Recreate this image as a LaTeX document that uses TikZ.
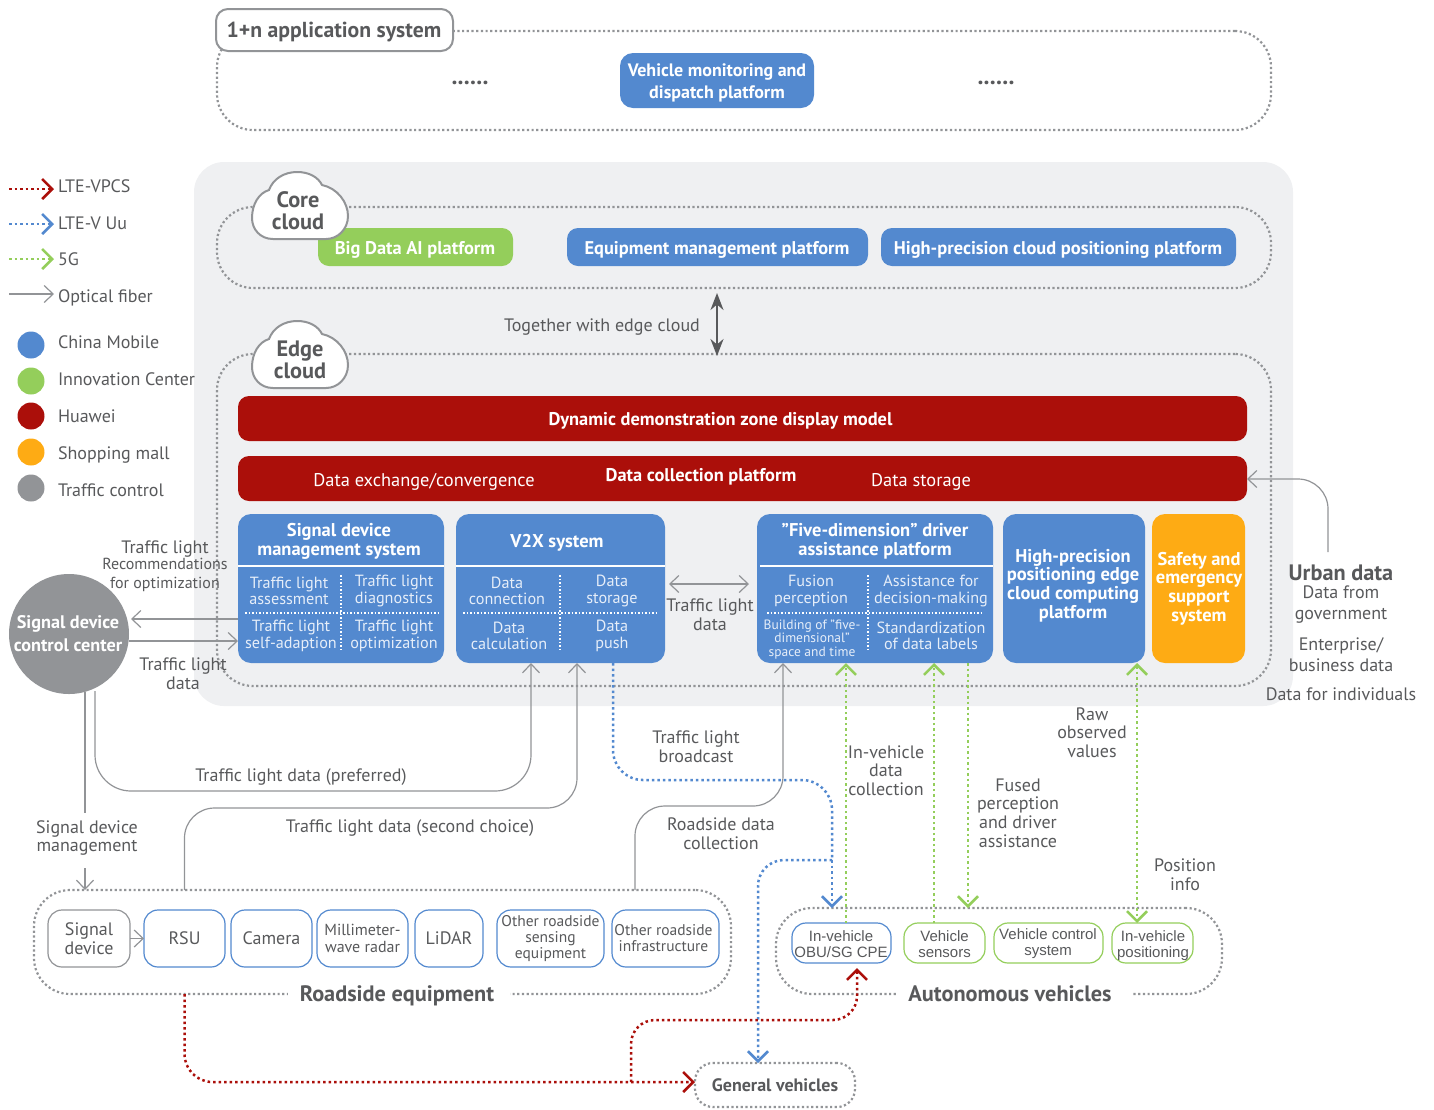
\documentclass[tikz,border=0pt]{standalone}
\usepackage{fontspec}
\setmainfont{PT Sans}
\newfontfamily\arialf{Liberation Sans}
\usetikzlibrary{arrows.meta,calc}
\definecolor{txt}{HTML}{58595B}
\definecolor{mgray}{HTML}{929497}
\definecolor{panel}{HTML}{EFF0F2}
\definecolor{mblue}{HTML}{5389CF}
\definecolor{mgreen}{HTML}{94CE5B}
\definecolor{mred}{HTML}{AB0F0A}
\definecolor{morange}{HTML}{FEAB14}
\definecolor{subw}{HTML}{E6EEF9}
\newcommand\fs[2]{\fontsize{#1}{#2}\selectfont}
\newcommand\mkbox[7][]{\node[#1,minimum width={(#5-#3)*1pt},minimum height={(#6-#4)*1pt}] (#2) at ({(#3+#5)/2},{(#4+#6)/2}) {#7};}
\newcommand\mklab[5][]{\node[#1] (#2) at (#3,#4) {#5};}
\tikzset{
  every node/.style={inner sep=0pt,outer sep=0pt,align=center,text=txt,font=\fs{18}{18.6}},
  dotframe/.style={draw=mgray,line width=2.2pt,dash pattern=on 2.2pt off 2.5pt,rounded corners=36pt},
  solidblue/.style={fill=mblue,rounded corners=13pt,text=white,font=\bfseries\fs{18.4}{22}},
  solidred/.style={fill=mred,rounded corners=11pt,text=white,font=\bfseries\fs{18.4}{19}},
  solidgreen/.style={fill=mgreen,rounded corners=11pt,text=white,font=\bfseries\fs{18.4}{19}},
  outlinebox/.style={draw=mblue,fill=white,line width=1.2pt,rounded corners=14pt,text=txt},
  greenbox/.style={outlinebox,draw=mgreen},
  titlew/.style={text=white,font=\bfseries\fs{18.5}{18.8}},
  boldw/.style={text=white,font=\bfseries\fs{18.4}{19}},
  subw/.style={text=subw,font=\fs{16.2}{16.4}},
  subsmall/.style={text=subw,font=\fs{13.5}{13.5}},
  head/.style={font=\bfseries\fs{22.3}{22}},
  cloudbody/.style={draw=mgray,fill=white,line width=2pt},
  gline/.style={draw=mgray,line width=1.2pt},
  gtip/.tip={Straight Barb[length=9pt,width=17pt,line width=1.2pt]},
  ctip/.tip={Straight Barb[length=10pt,width=20pt,line width=2.6pt]},
  dotconn/.style={line width=2.5pt,dash pattern=on 2.5pt off 3pt,rounded corners=18pt},
  redc/.style={dotconn,draw=mred},
  bluec/.style={dotconn,draw=mblue},
  greenc/.style={dotconn,draw=mgreen},
  sepw/.style={draw=white,line width=2.6pt},
  dotw/.style={draw=white,line width=1.5pt,dash pattern=on 1.5pt off 2pt},
  carbox/.style={font=\arialf\fs{15}{16}},
}
\begin{document}
\begin{tikzpicture}[x=1pt,y=-1pt]
\useasboundingbox (0,0) rectangle (1434,1109);
% top system
\mkbox[dotframe]{appframe}{217}{31}{1271}{130}{}
\mkbox[draw=mgray,fill=white,line width=2pt,rounded corners=12pt]{apphead}{216}{9}{453}{51}{}
\mklab[font=\bfseries\fs{21.7}{22}]{appheadl}{334}{32}{1+n application system}
\mkbox[solidblue]{vmon}{620}{53}{814}{108}{}
\mklab[text=white,font=\bfseries\fs{18}{22}]{vmonl}{717}{82.5}{Vehicle monitoring and\\dispatch platform}
\mklab[font=\bfseries\fs{24}{24}]{dl}{470}{83}{......}
\mklab[font=\bfseries\fs{24}{24}]{dr}{996}{83}{......}
% panel
\mkbox[fill=panel,rounded corners=30pt]{panelbox}{194}{162}{1293}{706}{}
% core
\mkbox[dotframe]{core}{217}{207}{1271}{288}{}
\mkbox[solidgreen]{bigdata}{318}{228}{513}{266}{}
\mklab[boldw]{bigdatal}{415}{250}{Big Data AI platform}
\mkbox[solidblue,rounded corners=11pt]{equip}{567}{228}{868}{266}{}
\mklab[boldw]{equipl}{717}{250}{Equipment management platform}
\mkbox[solidblue,rounded corners=11pt]{hpcloud}{881}{228}{1236}{266}{}
\mklab[boldw]{hpcloudl}{1058}{250}{High-precision cloud positioning platform}
\draw[cloudbody,shift={(251,171)}] (22,68) .. controls (9,68) and (1,58) .. (1,47) .. controls (1,33) and (8,22) .. (18,19) .. controls (22,8) and (33,1) .. (46,1) .. controls (58,1) and (67,6) .. (71,14) .. controls (86,17) and (97,31) .. (97,45) .. controls (97,58) and (87,68) .. (75,68) -- cycle;
\mklab[head]{corelab}{298}{210.5}{Core\\cloud}
% edge
\mkbox[dotframe]{edge}{217}{354}{1271}{686}{}
\draw[cloudbody,shift={(251,320)}] (22,68) .. controls (9,68) and (1,58) .. (1,47) .. controls (1,33) and (8,22) .. (18,19) .. controls (22,8) and (33,1) .. (46,1) .. controls (58,1) and (67,6) .. (71,14) .. controls (86,17) and (97,31) .. (97,45) .. controls (97,58) and (87,68) .. (75,68) -- cycle;
\mklab[head]{edgelab}{300}{359.5}{Edge\\cloud}
\mklab{together}{602}{327.5}{Together with edge cloud}
\draw[draw=txt,line width=2.2pt,{Stealth[length=17pt,width=13pt]}-{Stealth[length=17pt,width=13pt]},shorten <=5pt] ([xshift=-27pt]core.south) -- ([xshift=-27pt,yshift=-2pt]edge.north);
\mkbox[solidred]{dyn}{238}{396}{1247}{441}{}
\mklab[boldw]{dynl}{720.5}{420.5}{Dynamic demonstration zone display model}
\mkbox[solidred]{dcp}{238}{456}{1247}{501}{}
\mklab[text=white,font=\fs{18.4}{19}]{dex}{424}{481.5}{Data exchange/convergence}
\mklab[boldw]{dcpl}{701}{476.5}{Data collection platform}
\mklab[text=white,font=\fs{18.4}{19}]{dst}{921}{481.5}{Data storage}
% signal device mgmt
\mkbox[solidblue]{sdm}{238}{514}{444}{663}{}
\mklab[titlew]{sdmt}{339}{541}{Signal device\\management system}
\draw[sepw] (sdm.west |- 0,566) -- (sdm.east |- 0,566);
\draw[dotw] (245,613) -- (438,613);
\draw[dotw] (341,575) -- (341,652);
\mklab[subw]{a1}{289}{591}{Traffic light\\assessment}
\mklab[subw]{a2}{394}{591}{Traffic light\\diagnostics}
\mklab[subw]{a3}{291}{636}{Traffic light\\self-adaption}
\mklab[subw]{a4}{394}{636}{Traffic light\\optimization}
% v2x
\mkbox[solidblue]{v2x}{456}{514}{665}{663}{}
\mklab[titlew]{v2xt}{557}{543}{V2X system}
\draw[sepw] (v2x.west |- 0,566) -- (v2x.east |- 0,566);
\draw[dotw] (463,613) -- (657,613);
\draw[dotw] (560,575) -- (560,652);
\mklab[subw]{b1}{507}{591}{Data\\connection}
\mklab[subw]{b2}{612}{591}{Data\\storage}
\mklab[subw]{b3}{509}{636}{Data\\calculation}
\mklab[subw]{b4}{612}{636}{Data\\push}
% five
\mkbox[solidblue]{five}{757}{514}{993}{663}{}
\mklab[titlew]{fivet}{875}{541}{"Five-dimension" driver\\assistance platform}
\draw[sepw] (760,566) -- (five.east |- 0,566);
\draw[dotw] (767,613) -- (984,613);
\draw[dotw] (868,575) -- (868,652);
\mklab[subw]{c1}{811}{591}{Fusion\\perception}
\mklab[subw]{c2}{931}{591}{Assistance for\\decision-making}
\mklab[subsmall]{c3}{812}{639.5}{Building of "five-\\dimensional"\\space and time}
\mklab[subw]{c4}{931}{636}{Standardization\\of data labels}
% hp, safety
\mkbox[solidblue]{hp}{1003}{514}{1145}{663}{}
\mklab[titlew]{hpt}{1073}{585.5}{High-precision\\positioning edge\\cloud computing\\platform}
\mkbox[solidblue,fill=morange]{safe}{1152}{514}{1245}{663}{}
\mklab[titlew]{safet}{1199}{588.5}{Safety and\\emergency\\support\\system}
% legend
\coordinate (l1) at (9,189); \coordinate (l2) at (9,224); \coordinate (l3) at (9,259); \coordinate (l4) at (9,294);
\node[anchor=west] (t1) at (58,186) {LTE-VPCS};
\node[anchor=west] (t2) at (58,223) {LTE-V Uu};
\node[anchor=west] (t3) at (58,259) {5G};
\node[anchor=west] (t4) at (58,298) {Optical fiber};
\draw[redc,-{ctip},shorten >=4pt] (l1) -- (l1 -| t1.west);
\draw[bluec,-{ctip},shorten >=4pt] (l2) -- (l2 -| t2.west);
\draw[greenc,-{ctip},shorten >=4pt] (l3) -- (l3 -| t3.west);
\draw[gline,-{gtip},shorten >=4pt] (l4) -- (l4 -| t4.west);
\node[circle,fill=mblue,minimum size=27pt] (d1) at (31,345) {};
\node[circle,fill=mgreen,minimum size=27pt] (d2) at (31,381) {};
\node[circle,fill=mred,minimum size=27pt] (d3) at (31,416) {};
\node[circle,fill=morange,minimum size=27pt] (d4) at (31,452) {};
\node[circle,fill=mgray,minimum size=27pt] (d5) at (31,488) {};
\node[anchor=west] (n1) at (58,342) {China Mobile};
\node[anchor=west] (n2) at (58,379) {Innovation Center};
\node[anchor=west] (n3) at (58,416) {Huawei};
\node[anchor=west] (n4) at (58,454.5) {Shopping mall};
\node[anchor=west] (n5) at (58,490) {Traffic control};
% control center
\node[circle,fill=mgray,minimum size=120pt] (sdcc) at (69,634) {};
\mklab[text=white,font=\bfseries\fs{18.2}{22.5}]{sdccl}{68}{633.5}{Signal device\\control center}
\mklab{tl1}{165}{549}{Traffic light}
\mklab[font=\fs{16}{19}]{rec}{165}{575}{Recommendations\\for optimization}
\mklab{tl2}{183}{674}{Traffic light\\data}
\coordinate (cca) at (131,619);
\coordinate (ccb) at (129,641);
\draw[gline,-{gtip}] (cca -| sdm.west) -- (cca);
\draw[gline,-{gtip}] (ccb) -- (ccb -| sdm.west);
% bottom groups
\mkbox[dotframe]{rside}{34}{890}{731}{994}{}
\mklab[fill=white,head,minimum width=222pt,minimum height=26pt]{rlab}{399}{996}{Roadside equipment\hspace*{4pt}}
\mkbox[outlinebox,draw=mgray]{sd}{48}{910}{130}{967}{Signal\\device}
\mkbox[outlinebox]{rsu}{144}{910}{225}{967}{RSU}
\mkbox[outlinebox]{cam}{231}{910}{312}{967}{Camera}
\mkbox[outlinebox,font=\fs{16}{17}]{mmw}{317}{910}{408}{967}{Millimeter-\\wave radar}
\mkbox[outlinebox]{lidar}{415}{910}{483}{967}{LiDAR}
\mkbox[outlinebox,font=\fs{15.5}{16}]{ors}{497}{910}{604}{967}{Other roadside\\sensing\\equipment}
\mkbox[outlinebox,font=\fs{15.5}{16}]{ori}{612}{910}{719}{967}{Other roadside\hspace*{4pt}\\infrastructure\hspace*{4pt}}
\draw[gline,-{gtip}] (sd) -- (rsu);
\mkbox[dotframe]{auto}{776}{908}{1222}{994}{}
\mklab[fill=white,head,minimum width=234pt,minimum height=26pt]{alab}{1015}{994}{Autonomous vehicles\hspace*{10pt}}
\mkbox[outlinebox]{obu}{792}{923}{891}{963}{}
\mklab[carbox]{obul}{841}{944.5}{In-vehicle\\OBU/SG CPE}
\mkbox[greenbox]{vsen}{904}{923}{985}{963}{}
\mklab[carbox]{vsenl}{944.5}{944.5}{Vehicle\\sensors}
\mkbox[greenbox]{vctl}{994}{923}{1103}{963}{}
\mklab[carbox]{vctll}{1048}{943.5}{Vehicle control\\system}
\mkbox[greenbox]{vpos}{1112}{923}{1193}{963}{}
\mklab[carbox]{vposl}{1153}{945.5}{In-vehicle\\positioning}
\mkbox[dotframe,rounded corners=18pt,font=\bfseries\fs{18}{19}]{gen}{695}{1063}{855}{1107}{General vehicles}
% optical connectors
\coordinate (w1) at (531,791);
\coordinate (w2) at (577,808);
\coordinate (w3) at (783,806);
\coordinate (w4) at (1328,479);
\coordinate (usrc) at (1328,552);
\coordinate (sdgap) at (85,813);
\coordinate (sdgapb) at (85,868);
\draw[gline] ([xshift=16pt,yshift=2pt]sdcc.south) -- (sdgap);
\draw[gline,-{gtip}] (sdgapb) -- (sdgapb |- rside.north);
\draw[gline,rounded corners=36pt,-{gtip}] ([xshift=26pt,yshift=3pt]sdcc.south) |- (w1) -- ([xshift=75pt]v2x.south west);
\draw[gline,rounded corners=30pt,-{gtip}] (rsu.north |- rside.north) |- (w2) -- ([xshift=121pt]v2x.south west);
\draw[gline,rounded corners=30pt,-{gtip}] ([xshift=-96pt]rside.north east) |- (w3) -- ([xshift=26pt]five.south west);
\draw[gline,rounded corners=30pt,-{gtip}] (usrc) -- (w4) -- (dcp.east |- w4);
\draw[gline,{gtip}-{gtip}] (669,584) -- (749,584);
% wireless connectors
\coordinate (b1) at (832,780);
\coordinate (b2) at (758,860);
\coordinate (b0) at (832,860);
\coordinate (r1) at (184,1082);
\coordinate (r2) at (631,1082);
\coordinate (r3) at (631,1020);
\coordinate (r4) at (857,1020);
\draw[bluec,rounded corners=30pt] ([xshift=-52pt]v2x.south east) |- (b1) -- (b0);
\draw[bluec,-{ctip}] (b0) -- ([xshift=40pt]obu.north west |- auto.north);
\draw[bluec,rounded corners=26pt,-{ctip}] (b0) -- (b2) -- (b2 |- gen.north);
\draw[greenc,-{ctip}] ([xshift=54pt]obu.north west) -- ([xshift=89pt]five.south west);
\draw[greenc,-{ctip}] ([xshift=30pt]vsen.north west) -- ([xshift=177pt]five.south west);
\draw[greenc,-{ctip}] ([xshift=211pt]five.south west) -- ([xshift=211pt]five.south west |- auto.north);
\draw[greenc,{ctip}-{ctip}] ([xshift=-8pt]hp.south east) -- ([xshift=-8pt]hp.south east |- vpos.north);
\draw[redc,rounded corners=28pt,-{ctip}] (rsu.north |- rside.south) |- (r2) -- (gen.west |- r2);
\draw[redc,rounded corners=24pt,-{ctip},shorten >=5pt] (r2) -- (r3) -- (r4) -- ([xshift=65pt]obu.south west);
% labels
\mklab{ld1}{301}{777.5}{Traffic light data (preferred)}
\mklab{ld2}{410}{828.5}{Traffic light data (second choice)}
\mklab{ld3}{87}{838}{Signal device\\management}
\mklab{ld4}{696}{746.5}{Traffic light\\broadcast}
\mklab{ld5}{721}{833.5}{Roadside data\\collection}
\mklab{ld6}{886}{770.5}{In-vehicle\\data\\collection}
\mklab{ld7}{1018}{813}{Fused\\perception\\and driver\\assistance}
\mklab{ld8}{1092}{732.5}{Raw\\observed\\values}
\mklab{ld9}{1185}{874.5}{Position\\info}
\mklab{ld10}{710}{615}{Traffic light\\data}
\mklab[font=\bfseries\fs{22.3}{20}]{ur1}{1341}{573}{Urban data}
\mklab[font=\fs{18}{21}]{ur2}{1341}{605}{Data from\\government}
\mklab[font=\fs{18}{21}]{ur3}{1341}{655}{Enterprise/\\business data}
\mklab{ur4}{1341}{694}{Data for individuals}
\end{tikzpicture}
\end{document}
